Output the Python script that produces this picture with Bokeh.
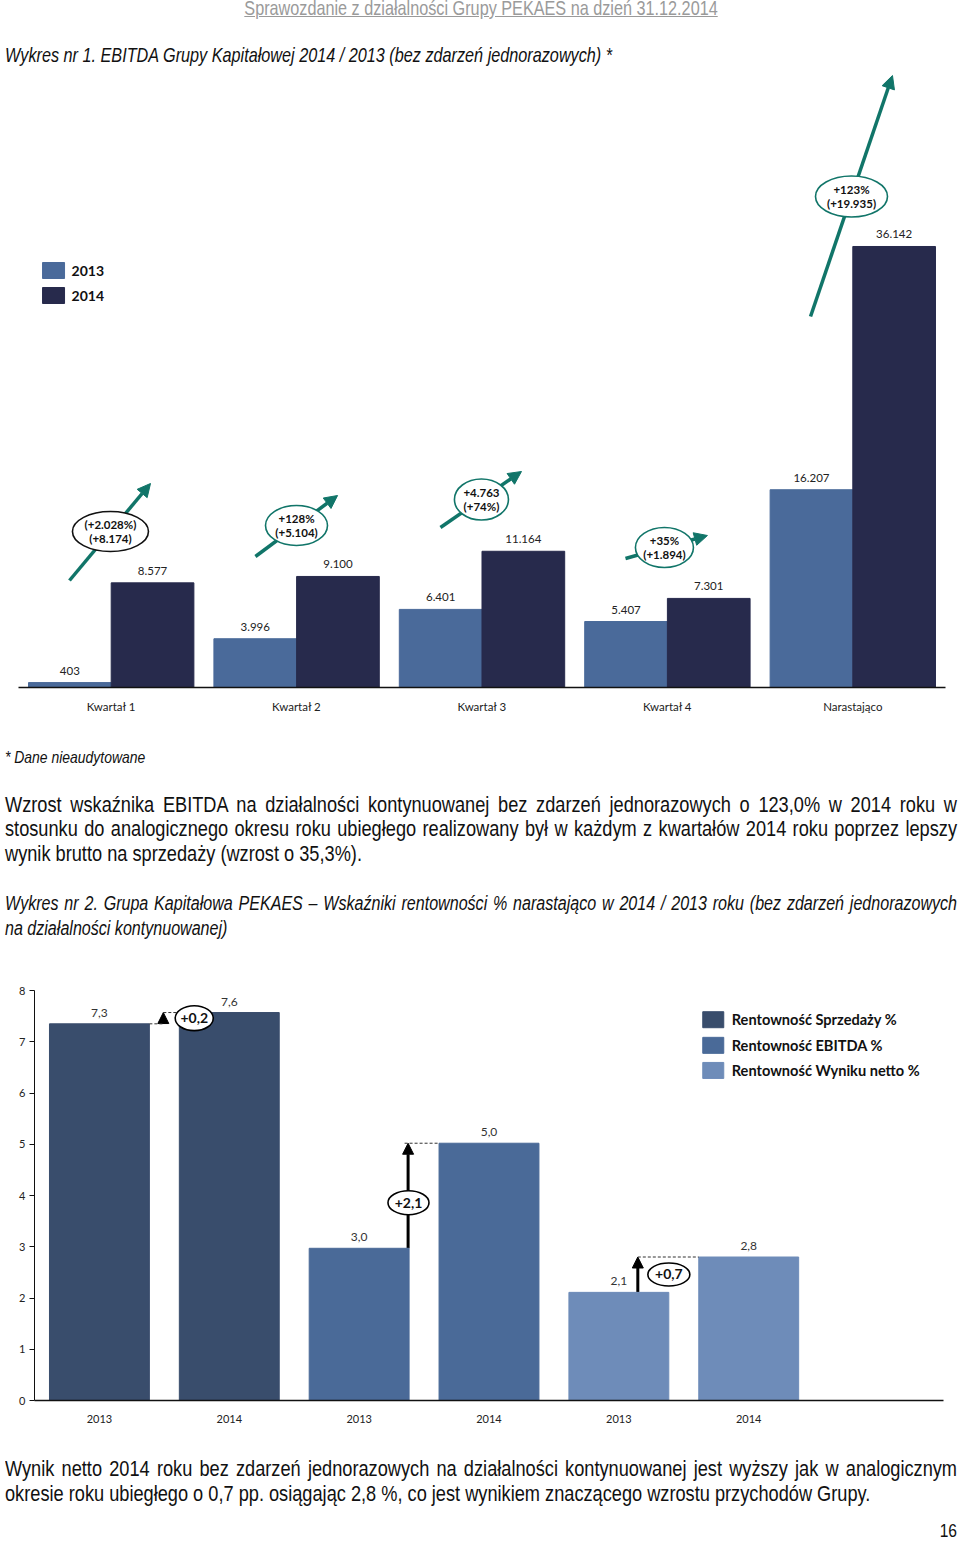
import numpy as np
from bokeh.plotting import figure
from bokeh.layouts import column, row
from bokeh.models import (Div, Arrow, NormalHead, ColumnDataSource, FixedTicker, Range1d, Spacer)
from bokeh.core.properties import value
from bokeh.embed import file_html
from bokeh.resources import INLINE

# ---------------- data: chart 1 (EBITDA) ----------------
periods = ["Kwartał 1", "Kwartał 2", "Kwartał 3", "Kwartał 4", "Narastająco"]
series1 = ["2013", "2014"]
ebitda_2013 = [403, 3996, 6401, 5407, 16207]
ebitda_2014 = [8577, 9100, 11164, 7301, 36142]
labels_2013 = ["403", "3.996", "6.401", "5.407", "16.207"]
labels_2014 = ["8.577", "9.100", "11.164", "7.301", "36.142"]
change_line1 = ["(+2.028%)", "+128%", "+4.763", "+35%", "+123%"]
change_line2 = ["(+8.174)", "(+5.104)", "(+74%)", "(+1.894)", "(+19.935)"]

# ---------------- data: chart 2 (profitability %) ----------------
ratio_years = ["2013", "2014", "2013", "2014", "2013", "2014"]
ratio_groups = ["Rentowność Sprzedaży %", "Rentowność EBITDA %", "Rentowność Wyniku netto %"]
ratio_values = [7.35, 7.57, 2.97, 5.02, 2.11, 2.80]
ratio_labels = ["7,3", "7,6", "3,0", "5,0", "2,1", "2,8"]
ratio_changes = ["+0,2", "+2,1", "+0,7"]

# ---------------- texts ----------------
header_text = "Sprawozdanie z działalności Grupy PEKAES na dzień 31.12.2014"
title1 = "Wykres nr 1. EBITDA Grupy Kapitałowej 2014 / 2013 (bez zdarzeń jednorazowych) *"
footnote = "* Dane nieaudytowane"
para1 = ["Wzrost wskaźnika EBITDA na działalności kontynuowanej bez zdarzeń jednorazowych o 123,0% w 2014 roku w",
         "stosunku do analogicznego okresu roku ubiegłego realizowany był w każdym z kwartałów 2014 roku poprzez lepszy",
         "wynik brutto na sprzedaży (wzrost o 35,3%)."]
title2 = ["Wykres nr 2. Grupa Kapitałowa PEKAES – Wskaźniki rentowności % narastająco w 2014 / 2013 roku (bez zdarzeń jednorazowych",
          "na działalności kontynuowanej)"]
para2 = ["Wynik netto 2014 roku bez zdarzeń jednorazowych na działalności kontynuowanej jest wyższy jak w analogicznym",
         "okresie roku ubiegłego o 0,7 pp. osiągając 2,8 %, co jest wynikiem znaczącego wzrostu przychodów Grupy."]
page_no = "16"

CHART_FONT = "Lato"
C2013, C2014 = "#4A6A9A", "#272A4C"
TEAL = "#117569"
RCOLORS = ["#394D6C", "#394D6C", "#4A6A98", "#4A6A98", "#6E8CB9", "#6E8CB9"]
TW = 952          # text block width on page
SQ = 0.82         # Arial Narrow ~ Arial compressed horizontally
IW = TW / SQ


def narrow(inner):
    return (f"<div style=\"width:{IW:.1f}px;transform:scaleX({SQ});transform-origin:0 0;"
            f"font-family:'Liberation Sans','Arial',sans-serif;\">{inner}</div>")


def lines_html(lines, size, lh, style="normal", color="#111", justify=True):
    out = []
    for i, ln in enumerate(lines):
        last = (i == len(lines) - 1)
        al = "justify" if (justify and not last) else "left"
        out.append(f"<div style=\"height:{lh}px;line-height:{lh}px;font-size:{size}px;font-style:{style};"
                   f"color:{color};text-align:{al};text-align-last:{al};\">{ln}</div>")
    return "".join(out)


# ---------------- top text ----------------
top_html = narrow(
    f"<div style=\"height:40px;\"><div style=\"height:16px;line-height:16px;text-align:center;color:#9a9a9a;"
    f"font-size:19.8px;text-decoration:underline;\">{header_text}</div></div>"
    + lines_html([title1], 19.8, 30, style="italic", justify=False))
div_top = Div(text=top_html, width=TW, height=70, margin=(0, 0, 0, 5))

# ---------------- chart 1 ----------------
p1 = figure(width=960, height=652, x_range=Range1d(0, 5), y_range=Range1d(0, 50566),
            output_backend="svg", toolbar_location=None, y_axis_location=None,
            min_border_left=18, min_border_right=15, min_border_top=0, min_border_bottom=35,
            outline_line_color=None)
p1.grid.visible = False
centers = np.arange(len(periods)) + 0.5
bw = 0.446
p1.vbar(x=centers - bw / 2, top=ebitda_2013, width=bw, color=C2013)
p1.vbar(x=centers + bw / 2, top=ebitda_2014, width=bw, color=C2014)
p1.text(x=centers - bw / 2, y=ebitda_2013, text=labels_2013, text_align="center", text_baseline="bottom",
        y_offset=-8, text_font=value(CHART_FONT), text_font_size="11.5px", text_color="#222")
p1.text(x=centers + bw / 2, y=ebitda_2014, text=labels_2014, text_align="center", text_baseline="bottom",
        y_offset=-8, text_font=value(CHART_FONT), text_font_size="11.5px", text_color="#222")

arrows1 = ColumnDataSource(dict(
    x0=[0.275, 1.278, 2.276, 3.274, 4.272],
    y0=[8769, 10736, 13113, 10572, 30405],
    x1=[0.712, 1.721, 2.713, 3.716, 4.714],
    y1=[16719, 15735, 17702, 12457, 50156]))
a1 = Arrow(end=NormalHead(size=13, fill_color=TEAL, line_color=TEAL), source=arrows1,
           x_start="x0", y_start="y0", x_end="x1", y_end="y1",
           line_color=TEAL, line_width=3.5, level="underlay")
p1.add_layout(a1)
ell_x = [0.496, 1.4995, 2.497, 3.484, 4.493]
ell_y = [12785, 13277, 15407, 11473, 40239]
p1.ellipse(x=ell_x, y=ell_y, width=[76, 62, 54, 58, 72], height=[40, 40, 41, 40, 41],
           width_units="screen", height_units="screen", fill_color="white",
           line_color=["#111", TEAL, TEAL, TEAL, TEAL], line_width=1.6)
p1.text(x=ell_x, y=ell_y, text=change_line1, text_align="center", text_baseline="middle", y_offset=-7,
        text_font=value(CHART_FONT), text_font_style="bold", text_font_size="11.5px", text_color="#111")
p1.text(x=ell_x, y=ell_y, text=change_line2, text_align="center", text_baseline="middle", y_offset=7,
        text_font=value(CHART_FONT), text_font_style="bold", text_font_size="11.5px", text_color="#111")
# legend
p1.rect(x=[0.189, 0.189], y=[34175, 32126], width=22, height=16, width_units="screen",
        height_units="screen", color=[C2013, C2014])
p1.text(x=[0.286, 0.286], y=[34175, 32126], text=series1, text_baseline="middle",
        text_font=value(CHART_FONT), text_font_style="bold", text_font_size="14px", text_color="#111")

ax = p1.xaxis[0]
ax.ticker = FixedTicker(ticks=list(centers))
ax.major_label_overrides = {float(c): lab for c, lab in zip(centers, periods)}
ax.major_tick_line_color = None
ax.minor_tick_line_color = None
ax.axis_line_color = "#111"
ax.axis_line_width = 1.5
ax.major_label_standoff = 6
ax.major_label_text_font = CHART_FONT
ax.major_label_text_font_size = "11.5px"
ax.major_label_text_color = "#222"

# ---------------- middle text ----------------
mid_html = narrow(
    "<div style=\"height:26px;\"></div>"
    + lines_html([footnote], 17, 20, style="italic", justify=False)
    + "<div style=\"height:24.75px;\"></div>"
    + lines_html(para1, 22.2, 24.5)
    + "<div style=\"height:24.25px;\"></div>"
    + lines_html(title2, 19.6, 25, style="italic"))
div_mid = Div(text=mid_html, width=TW, height=253, margin=(0, 0, 0, 5))

# ---------------- chart 2 ----------------
p2 = figure(width=942, height=465, x_range=Range1d(0, 7), y_range=Range1d(0, 8),
            output_backend="svg", toolbar_location=None,
            min_border_left=18, min_border_right=15, min_border_top=15, min_border_bottom=40,
            outline_line_color=None)
p2.grid.visible = False
rx = np.arange(len(ratio_values)) + 0.5
p2.vbar(x=rx, top=ratio_values, width=100 / 130, color=RCOLORS)
p2.text(x=rx, y=ratio_values, text=ratio_labels, text_align="center", text_baseline="bottom",
        y_offset=-7, text_font=value(CHART_FONT), text_font_size="12px", text_color="#333")

hw = 50 / 130
v = ratio_values
arrow_x = [0.992, 2.877, 4.646]
p2.segment(x0=[rx[0] + hw, 0.992, 2.85, arrow_x[2]],
           y0=[v[0], v[1], v[3], v[5]],
           x1=[0.992, rx[1] - hw, rx[3] - hw, rx[5] - hw],
           y1=[v[0], v[1], v[3], v[5]],
           line_color="#333", line_width=1, line_dash="3 2")
arrows2 = ColumnDataSource(dict(x0=arrow_x, y0=[v[0], v[2], v[4]], x1=arrow_x, y1=[v[1], v[3], v[5]]))
a2 = Arrow(end=NormalHead(size=11, fill_color="black", line_color="black"), source=arrows2,
           x_start="x0", y_start="y0", x_end="x1", y_end="y1",
           line_color="black", line_width=3, level="underlay")
p2.add_layout(a2)
e2x = [1.23, 2.88, 4.885]
e2y = [7.46, 3.86, 2.459]
p2.ellipse(x=e2x, y=e2y, width=[38, 41, 42], height=[25, 24, 23], width_units="screen",
           height_units="screen", fill_color="white", line_color="black", line_width=1.6)
p2.text(x=e2x, y=e2y, text=ratio_changes, text_align="center", text_baseline="middle",
        text_font=value(CHART_FONT), text_font_style="bold", text_font_size="14px", text_color="#111")
# legend
p2.rect(x=[5.227] * 3, y=[7.43, 6.93, 6.44], width=21, height=16, width_units="screen",
        height_units="screen", color=[RCOLORS[0], RCOLORS[2], RCOLORS[4]])
p2.text(x=[5.369] * 3, y=[7.43, 6.93, 6.44], text=ratio_groups, text_baseline="middle",
        text_font=value(CHART_FONT), text_font_style="bold", text_font_size="14.6px", text_color="#111")

bx = p2.xaxis[0]
bx.ticker = FixedTicker(ticks=list(rx))
bx.major_label_overrides = {float(c): lab for c, lab in zip(rx, ratio_years)}
bx.major_tick_line_color = None
bx.minor_tick_line_color = None
bx.axis_line_color = "#111"
bx.axis_line_width = 1.5
bx.major_label_standoff = 8
bx.major_label_text_font = CHART_FONT
bx.major_label_text_font_size = "11px"
bx.major_label_text_color = "#222"
by = p2.yaxis[0]
by.ticker = FixedTicker(ticks=list(range(0, 9)))
by.minor_tick_line_color = None
by.major_tick_out = 5
by.major_tick_in = 0
by.major_tick_line_color = "#111"
by.axis_line_color = "#111"
by.major_label_standoff = 4
by.major_label_text_font = CHART_FONT
by.major_label_text_font_size = "11px"
by.major_label_text_color = "#222"

chart2_row = row(Spacer(width=16, height=465), p2, spacing=0)

# ---------------- bottom text ----------------
bot_html = narrow(
    "<div style=\"height:15.5px;\"></div>"
    + lines_html(para2, 22.2, 25)
    + "<div style=\"height:15.5px;\"></div>"
    + f"<div style=\"height:20px;line-height:20px;font-size:19px;text-align:right;color:#111;\">{page_no}</div>")
div_bot = Div(text=bot_html, width=TW, height=101, margin=(0, 0, 0, 5))

layout = column(div_top, p1, div_mid, chart2_row, div_bot, spacing=0)
open("out.html", "w").write(file_html(layout, INLINE))
